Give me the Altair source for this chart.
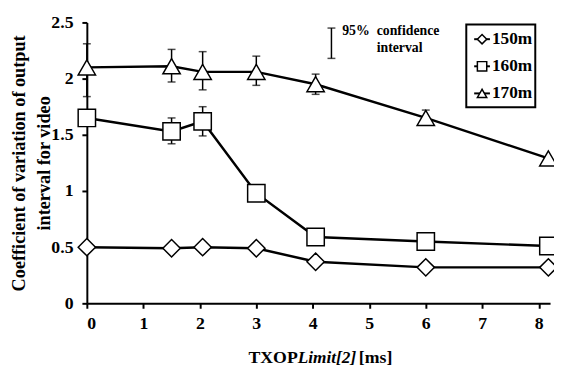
import altair as alt
import pandas as pd

# ---- data ----
x_vals = [0.0, 1.5, 2.05, 3.0, 4.05, 6.0, 8.17]
series_names = ["150m", "160m", "170m"]
cv_150 = [0.50, 0.49, 0.50, 0.49, 0.37, 0.32, 0.32]
cv_160 = [1.65, 1.53, 1.62, 0.98, 0.59, 0.55, 0.51]
cv_170 = [2.10, 2.11, 2.06, 2.06, 1.95, 1.65, 1.29]

# 95% confidence intervals (visible ones)
err_x = [0.0, 1.5, 2.05, 3.0, 4.05, 6.0, 1.5, 2.05]
err_lo = [1.84, 1.97, 1.90, 1.94, 1.86, 1.60, 1.42, 1.49]
err_hi = [2.31, 2.26, 2.24, 2.20, 2.04, 1.72, 1.65, 1.75]

# confidence-interval key in the upper area
key_x = [4.33]
key_lo = [2.18]
key_hi = [2.45]
key_labels = ["95%", "confidence", "interval"]
key_label_x = [4.52, 5.13, 5.13]
key_label_y = [2.386, 2.386, 2.237]

x_ticks = [0, 1, 2, 3, 4, 5, 6, 7, 8]
y_ticks = [0, 0.5, 1, 1.5, 2, 2.5]

FONT = "Liberation Serif"

rows = []
for name, vals in zip(series_names, [cv_150, cv_160, cv_170]):
    for xv, yv in zip(x_vals, vals):
        rows.append({"x": xv, "y": yv, "series": name})
df = pd.DataFrame(rows)
err_df = pd.DataFrame({"x": err_x, "lo": err_lo, "hi": err_hi})
key_df = pd.DataFrame({"x": key_x, "lo": key_lo, "hi": key_hi})
key_txt_df = pd.DataFrame({"x": key_label_x, "y": key_label_y, "t": key_labels})
leg_df = pd.DataFrame({"series": series_names})

xs = alt.Scale(domain=[0, 8.2], nice=False, zero=False)
ys = alt.Scale(domain=[0, 2.5], nice=False)
shape_scale = alt.Scale(domain=series_names, range=["diamond", "square", "triangle-up"])

x_enc = alt.X("x:Q", scale=xs, axis=alt.Axis(values=x_ticks, title=None, format="d",
              labelFontSize=18, labelPadding=7, labelFont=FONT, labelFontWeight="bold"))
y_enc = alt.Y("y:Q", scale=ys, axis=alt.Axis(values=y_ticks, format="~g",
              title=["Coefficient of variation of output", "interval for video"],
              titleFont=FONT, titleFontWeight="bold",
              titleFontSize=18.5, titleLineHeight=25, titleX=-59, titleY=142.5,
              titleAngle=-90, titleAlign="center", titleBaseline="bottom",
              labelFont=FONT, labelFontWeight="bold",
              labelFontSize=18, labelPadding=9))

base = alt.Chart(df)

lines = base.mark_line(color="black", strokeWidth=2.5).encode(
    x=x_enc, y=y_enc, detail="series:N")

err_rule = alt.Chart(err_df).mark_rule(color="black", strokeWidth=1.5).encode(
    x=alt.X("x:Q", scale=xs), y=alt.Y("lo:Q", scale=ys), y2="hi:Q")
err_cap_lo = alt.Chart(err_df).mark_tick(color="black", thickness=1.5, size=8,
                                         orient="horizontal").encode(
    x=alt.X("x:Q", scale=xs), y=alt.Y("lo:Q", scale=ys))
err_cap_hi = alt.Chart(err_df).mark_tick(color="black", thickness=1.5, size=8,
                                         orient="horizontal").encode(
    x=alt.X("x:Q", scale=xs), y=alt.Y("hi:Q", scale=ys))

points = base.mark_point(filled=False, fill="white", fillOpacity=1, stroke="black",
                         strokeWidth=1.5, opacity=1, size=310).encode(
    x=alt.X("x:Q", scale=xs), y=alt.Y("y:Q", scale=ys),
    shape=alt.Shape("series:N", scale=shape_scale, legend=None))

key_rule = alt.Chart(key_df).mark_rule(color="black", strokeWidth=1.5).encode(
    x=alt.X("x:Q", scale=xs), y=alt.Y("lo:Q", scale=ys), y2="hi:Q")
key_cap_lo = alt.Chart(key_df).mark_tick(color="black", thickness=1.5, size=8,
                                         orient="horizontal").encode(
    x=alt.X("x:Q", scale=xs), y=alt.Y("lo:Q", scale=ys))
key_cap_hi = alt.Chart(key_df).mark_tick(color="black", thickness=1.5, size=8,
                                         orient="horizontal").encode(
    x=alt.X("x:Q", scale=xs), y=alt.Y("hi:Q", scale=ys))

key_text = alt.Chart(key_txt_df).mark_text(
    align="left", baseline="alphabetic", font=FONT, fontWeight="bold", fontSize=14).encode(
    x=alt.X("x:Q", scale=xs), y=alt.Y("y:Q", scale=ys), text="t:N")

# x-axis title with mixed styles
t_a = alt.Chart(pd.DataFrame({"t": ["TXOP"]})).mark_text(
    align="right", baseline="alphabetic", font=FONT, fontWeight="bold", fontSize=18).encode(
    x=alt.value(214), y=alt.value(346), text="t:N")
t_b = alt.Chart(pd.DataFrame({"t": ["Limit[2]"]})).mark_text(
    align="left", baseline="alphabetic", font=FONT, fontWeight="bold", fontStyle="italic",
    fontSize=17.5).encode(x=alt.value(214), y=alt.value(346), text="t:N")
t_c = alt.Chart(pd.DataFrame({"t": ["[ms]"]})).mark_text(
    align="left", baseline="alphabetic", font=FONT, fontWeight="bold", fontSize=18).encode(
    x=alt.value(276), y=alt.value(346), text="t:N")

main = alt.layer(lines, err_rule, err_cap_lo, err_cap_hi, points,
                 key_rule, key_cap_lo, key_cap_hi, key_text, t_a, t_b, t_c)

# ---- boxed legend (symbol with line stub + label) ----
leg_y = alt.Y("series:N", scale=alt.Scale(type="point", domain=series_names,
                                          range=[17, 72], padding=0), axis=None)
leg_box = alt.Chart(pd.DataFrame({"b": [1]})).mark_rect(
    fill="white", stroke="black", strokeWidth=2).encode(
    x=alt.value(385), x2=alt.value(455), y=alt.value(2), y2=alt.value(86))
leg_stub = alt.Chart(leg_df).mark_rule(color="black", strokeWidth=2).encode(
    x=alt.value(393), x2=alt.value(409), y=leg_y)
leg_sym = alt.Chart(leg_df).mark_point(filled=False, fill="white", fillOpacity=1,
                                       stroke="black", strokeWidth=1.5, size=90).encode(
    x=alt.value(401), y=leg_y,
    shape=alt.Shape("series:N", scale=shape_scale, legend=None))
leg_lab = alt.Chart(leg_df).mark_text(align="left", baseline="middle", font=FONT,
                                      fontWeight="bold", fontSize=17.5).encode(
    x=alt.value(411), y=leg_y, text="series:N")
legend = alt.layer(leg_box, leg_stub, leg_sym, leg_lab)

chart = alt.layer(main, legend).resolve_scale(y="independent").properties(
    width=470, height=285,
    autosize=alt.AutoSizeParams(type="none"),
    padding={"left": 80, "top": 12, "right": 4, "bottom": 65},
    background="white",
).configure_view(stroke=None).configure_axis(
    domainColor="black", domainWidth=2, tickColor="black", tickWidth=2, tickSize=5,
    grid=False, labelFont=FONT, labelFontWeight="bold", labelColor="black",
    titleFont=FONT, titleFontWeight="bold", titleColor="black",
)

chart.save("out.html", embed_options={"renderer": "svg", "actions": False})
